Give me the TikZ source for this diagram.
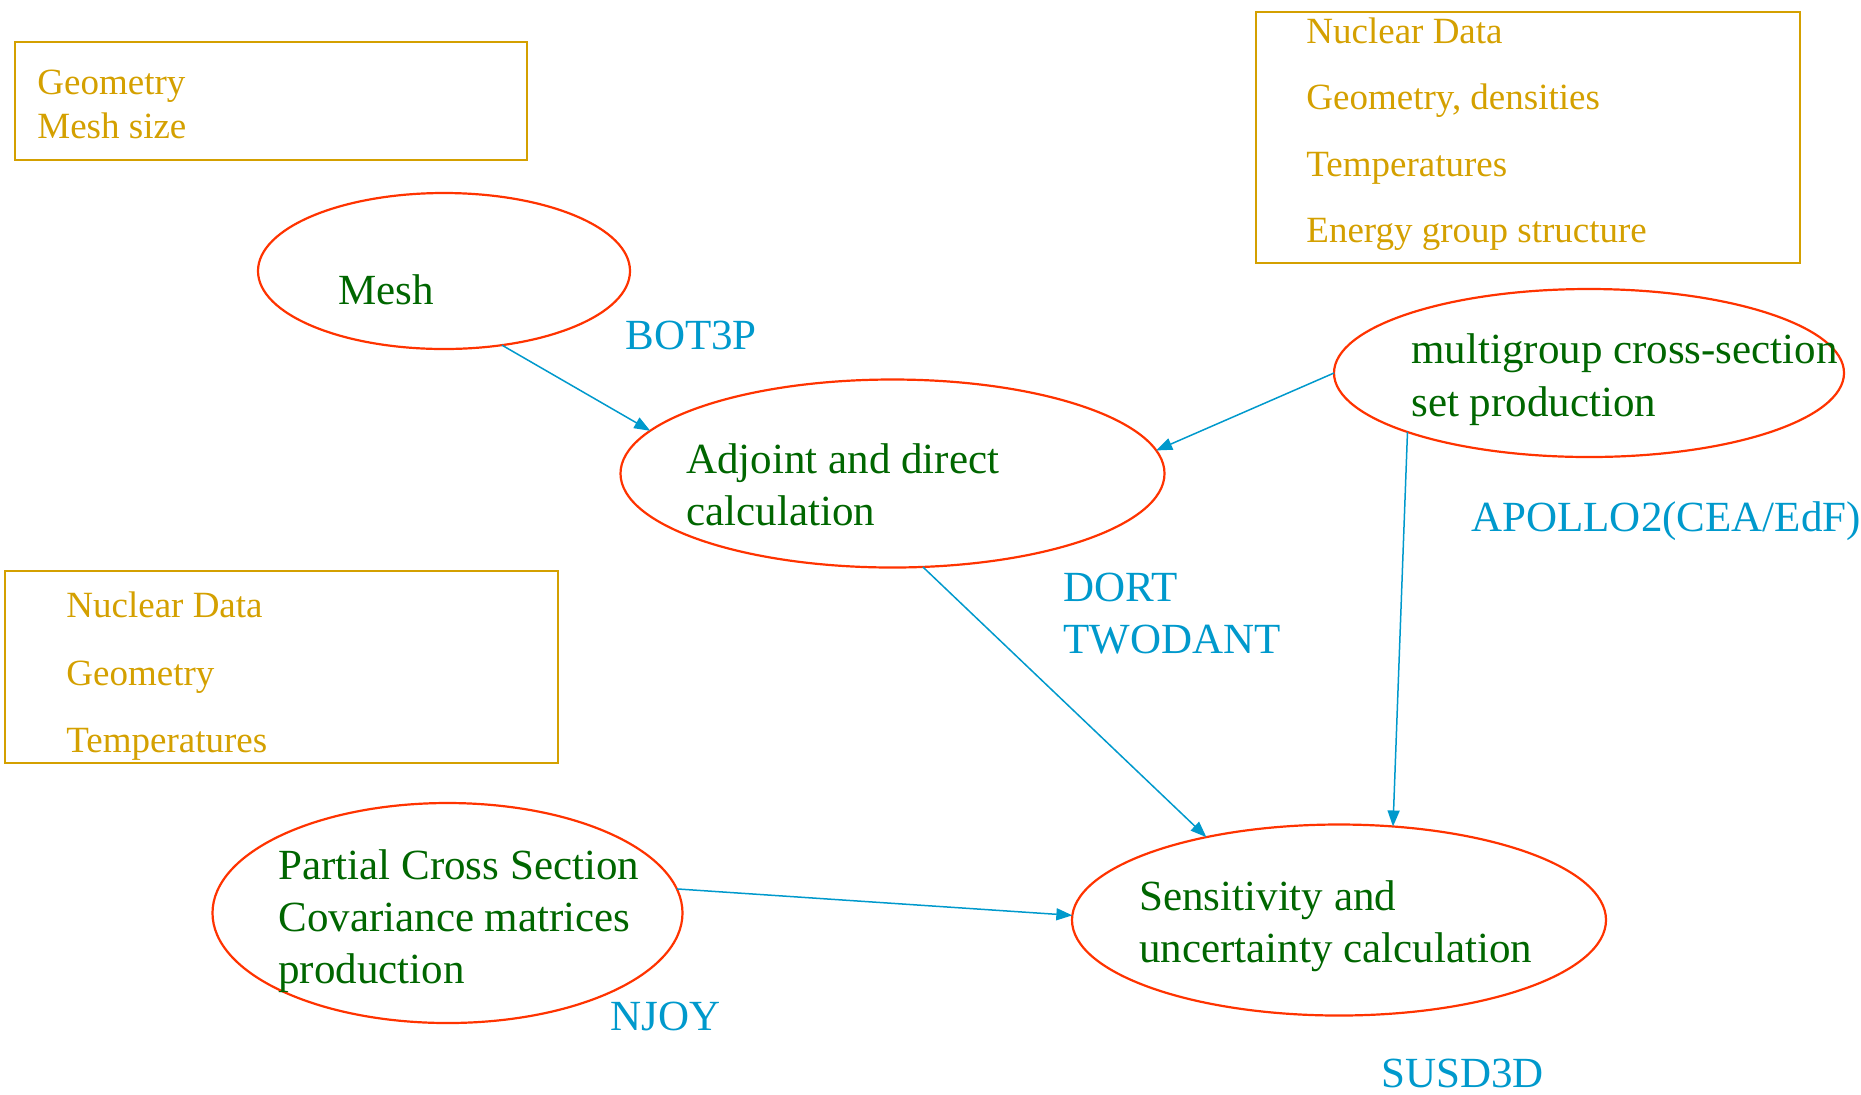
\documentclass[tikz,border=0pt]{standalone}
\usepackage{fontspec}
\setmainfont{Liberation Serif}
\usetikzlibrary{arrows.meta,shapes.geometric}
\definecolor{boxgold}{HTML}{D4A000}
\definecolor{txtgreen}{HTML}{006600}
\definecolor{lblblue}{HTML}{0099CC}
\definecolor{ovred}{HTML}{FF3300}
\begin{document}
\begin{tikzpicture}[x=0.5pt,y=-0.5pt,
  infobox/.style={draw=boxgold, line width=1pt, rectangle, inner sep=0, outer sep=0},
  oval/.style={draw=ovred, line width=1.1pt, ellipse, inner sep=0, outer sep=0},
  goldtxt/.style={text=boxgold, font=\fontsize{18.5}{22}\selectfont, anchor=base west, inner sep=0},
  greentxt/.style={text=txtgreen, font=\fontsize{21.5}{26}\selectfont, anchor=base west, inner sep=0},
  bluetxt/.style={text=lblblue, font=\fontsize{21.5}{26}\selectfont, anchor=base west, inner sep=0},
  flow/.style={draw=lblblue, line width=0.75pt, -{Triangle[length=8pt,width=6pt]}}
]
\useasboundingbox (0,0) rectangle (1861,1094);

% information boxes
\node[infobox, minimum width=256pt, minimum height=59pt] (box1) at (271,101) {};
\node[infobox, minimum width=272pt, minimum height=125.5pt] (box2) at (1528,137.5) {};
\node[infobox, minimum width=276.5pt, minimum height=96pt] (box3) at (281.5,667) {};

\node[goldtxt] (b1a) at (37,94) {Geometry};
\node[goldtxt] (b1b) at (37,138) {Mesh size};

\node[goldtxt] (b2a) at (1306,43) {Nuclear Data};
\node[goldtxt] (b2b) at (1306,109) {Geometry, densities};
\node[goldtxt] (b2c) at (1306,176) {Temperatures};
\node[goldtxt] (b2d) at (1306,242) {Energy group structure};

\node[goldtxt] (b3a) at (66,617) {Nuclear Data};
\node[goldtxt] (b3b) at (66,685) {Geometry};
\node[goldtxt] (b3c) at (66,752) {Temperatures};

% ellipses
\node[oval, minimum width=186pt, minimum height=78pt] (mesh) at (444,271) {};
\node[oval, minimum width=272pt, minimum height=94pt] (adj) at (892.5,473.5) {};
\node[oval, minimum width=255pt, minimum height=84pt] (multi) at (1589,373) {};
\node[oval, minimum width=235pt, minimum height=110pt] (part) at (447.5,913) {};
\node[oval, minimum width=267pt, minimum height=95.5pt] (sens) at (1339,920) {};

% ellipse texts
\node[greentxt] (tmesh) at (338,304) {Mesh};
\node[greentxt] (tadj1) at (686,473) {Adjoint and direct};
\node[greentxt] (tadj2) at (686,525) {calculation};
\node[greentxt] (tmul1) at (1411,363) {multigroup cross-section};
\node[greentxt] (tmul2) at (1411,416) {set production};
\node[greentxt] (tpar1) at (278,879) {Partial Cross Section};
\node[greentxt] (tpar2) at (278,931) {Covariance matrices};
\node[greentxt] (tpar3) at (278,983) {production};
\node[greentxt] (tsen1) at (1139,910) {Sensitivity and};
\node[greentxt] (tsen2) at (1139,962) {uncertainty calculation};

% code labels
\node[bluetxt] (lbot) at (625,349) {BOT3P};
\node[bluetxt] (ldort) at (1063,601) {DORT};
\node[bluetxt] (ltwo) at (1063,653) {TWODANT};
\node[bluetxt] (lapo) at (1471,531) {APOLLO2(CEA/EdF)};
\node[bluetxt] (lnjoy) at (610,1030) {NJOY};
\node[bluetxt] (lsusd) at (1381,1087) {SUSD3D};

% connectors
\draw[flow] (mesh.-52.5) -- (adj.170.5);
\draw[flow] (multi.180.5) -- (adj.5.1);
\draw[flow] (adj.-72.6) -- (sens.148.4);
\draw[flow] (multi.-162.3) -- (sens.60.6);
\draw[flow] (part.6.1) -- (sens.179.4);
\end{tikzpicture}
\end{document}
